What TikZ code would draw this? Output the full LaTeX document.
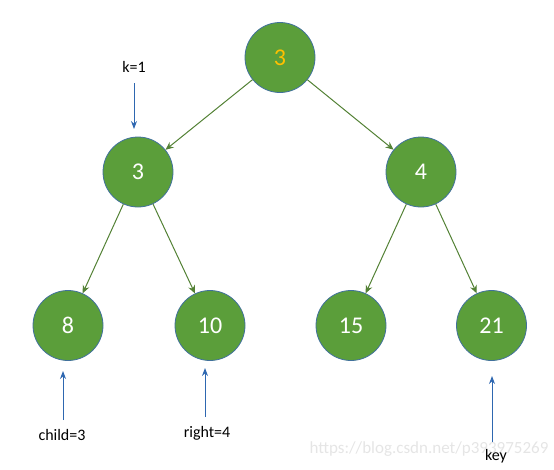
\documentclass[tikz,border=0pt]{standalone}
\usepackage{fontspec}
\setmainfont{Carlito}
\usetikzlibrary{arrows.meta}
\definecolor{nodefill}{HTML}{5B9E3A}
\definecolor{nodeborder}{HTML}{41719C}
\definecolor{edgegreen}{HTML}{538135}
\definecolor{ptrblue}{HTML}{2E67B0}
\definecolor{rootorange}{HTML}{FFC000}
\tikzset{
  treenode/.style={circle, minimum size=70pt, inner sep=0pt, fill=nodefill, draw=nodeborder, line width=0.8pt, text=white, font=\fontsize{24}{28}\selectfont},
  treeedge/.style={draw=edgegreen, line width=1pt, -{Stealth[length=8pt,width=7pt]}},
  ptr/.style={draw=ptrblue, line width=1pt, -{Stealth[length=8pt,width=6pt]}},
  ptrlabel/.style={text=black, font=\fontsize{16}{18}\selectfont, inner sep=0pt},
}
\begin{document}
\begin{tikzpicture}[x=1pt,y=-1pt]
\useasboundingbox (0,0) rectangle (554,469);
\node[treenode, text=rootorange] (r) at (280,57.5) {3};
\node[treenode] (a) at (138,172) {3};
\node[treenode] (b) at (421,172) {4};
\node[treenode] (c) at (68,325.5) {8};
\node[treenode] (d) at (210,325.5) {10};
\node[treenode] (e) at (351,325.5) {15};
\node[treenode] (f) at (491.5,325.5) {21};
\draw[treeedge] (r) -- (a);
\draw[treeedge] (r) -- (b);
\draw[treeedge] (a) -- (c);
\draw[treeedge] (a) -- (d);
\draw[treeedge] (b) -- (e);
\draw[treeedge] (b) -- (f);
% pointers
\node[ptrlabel] (k) at (134,67) {k=1};
\coordinate (ks) at (134,83);
\coordinate (ke) at (134,129);
\draw[ptr] (ks) -- (ke);
\node[ptrlabel] (ch) at (62,435) {child=3};
\coordinate (cs) at (63,420);
\coordinate (ce) at (63,371);
\draw[ptr] (cs) -- (ce);
\node[ptrlabel] (rt) at (207,433) {right=4};
\coordinate (rs) at (205,417);
\coordinate (re) at (205,368);
\draw[ptr] (rs) -- (re);
\node[ptrlabel, text=gray!20, font=\fontsize{17}{19}\selectfont] (wm) at (429,449) {https://blog.csdn.net/p393975269};
\node[ptrlabel] (ky) at (496,456) {key};
\coordinate (ys) at (492,442);
\coordinate (ye) at (492,376);
\draw[ptr] (ys) -- (ye);
\end{tikzpicture}
\end{document}
